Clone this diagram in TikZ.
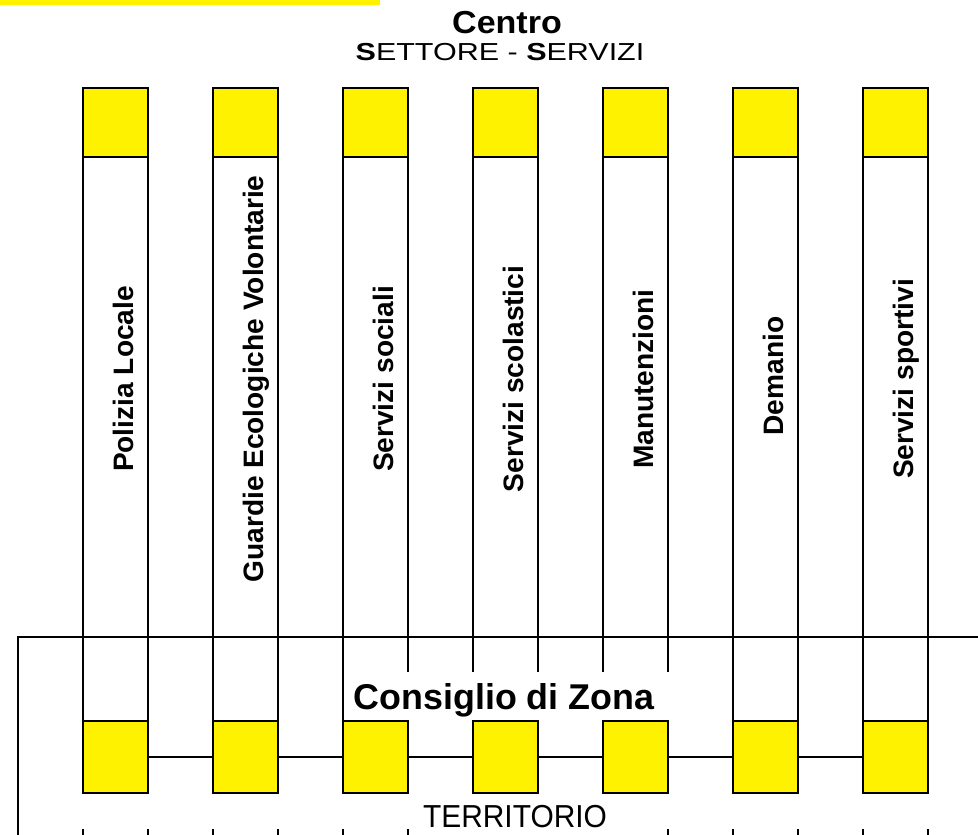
\documentclass[tikz,border=0pt]{standalone}
\usepackage{fontspec}
\setmainfont{Liberation Sans}
\usepackage{graphicx}
\begin{document}
\begin{tikzpicture}[x=0.02cm, y=-0.02cm, line width=1pt,
  box/.style={draw, fill=yellow, inner sep=0pt, outer sep=0pt, minimum width=1.3cm},
  topbox/.style={box, minimum height=1.38cm},
  botbox/.style={box, minimum height=1.44cm},
  lbl/.style={rotate=90, anchor=base, inner sep=0pt, font=\bfseries\fontsize{16}{19}\selectfont}]
\useasboundingbox (0,0) rectangle (978,835);
\fill[yellow] (0,0) rectangle (380,5);
% titles
\node[anchor=base, inner sep=0pt] (centro) at (507,33) {\scalebox{1.07}[1]{\bfseries\fontsize{18.1}{21}\selectfont Centro}};
\node[anchor=base, inner sep=0pt] (settore) at (500,60) {\scalebox{1.24}[1]{\fontsize{14}{17}\selectfont \textbf{S}ETTORE - \textbf{S}ERVIZI}};
\node[anchor=base, inner sep=0pt] (consiglio) at (504,709) {\bfseries\fontsize{20.4}{24}\selectfont Consiglio di Zona};
\node[anchor=base, inner sep=0pt] (territorio) at (515,827) {\scalebox{0.94}[1]{\fontsize{18.1}{21}\selectfont TERRITORIO}};
% top boxes
\node[topbox] (T_1) at (115.5,122.5) {};
\node[topbox] (T_2) at (245.5,122.5) {};
\node[topbox] (T_3) at (375.5,122.5) {};
\node[topbox] (T_4) at (505.5,122.5) {};
\node[topbox] (T_5) at (635.5,122.5) {};
\node[topbox] (T_6) at (765.5,122.5) {};
\node[topbox] (T_7) at (895.5,122.5) {};
% bottom boxes
\node[botbox] (B_1) at (115.5,757) {};
\node[botbox] (B_2) at (245.5,757) {};
\node[botbox] (B_3) at (375.5,757) {};
\node[botbox] (B_4) at (505.5,757) {};
\node[botbox] (B_5) at (635.5,757) {};
\node[botbox] (B_6) at (765.5,757) {};
\node[botbox] (B_7) at (895.5,757) {};
\draw (B_1) -- (B_2) -- (B_3) -- (B_4) -- (B_5) -- (B_6) -- (B_7);
% columns
\coordinate (cut) at (0,672);
\draw (T_1.south west) -- (B_1.north west);
\draw (T_1.south east) -- (B_1.north east);
\draw (T_2.south west) -- (B_2.north west);
\draw (T_2.south east) -- (B_2.north east);
\draw (T_3.south west) -- (B_3.north west);
\draw (T_3.south east) -- (T_3.south east |- cut);
\draw (T_4.south west) -- (T_4.south west |- cut);
\draw (T_4.south east) -- (T_4.south east |- cut);
\draw (T_5.south west) -- (T_5.south west |- cut);
\draw (T_5.south east) -- (T_5.south east |- cut);
\draw (T_6.south west) -- (B_6.north west);
\draw (T_6.south east) -- (B_6.north east);
\draw (T_7.south west) -- (B_7.north west);
\draw (T_7.south east) -- (B_7.north east);
% labels
\node[lbl] (L_1) at (133,379) {Polizia Locale};
\node[lbl] (L_2) at (263,379) {Guardie Ecologiche Volontarie};
\node[lbl] (L_3) at (393,379) {Servizi sociali};
\node[lbl] (L_4) at (523,379) {Servizi scolastici};
\node[lbl] (L_5) at (653,379) {Manutenzioni};
\node[lbl] (L_6) at (783,376) {Demanio};
\node[lbl] (L_7) at (913,379) {Servizi sportivi};
% zona line
\coordinate (hl) at (18,637);
\coordinate (hr) at (978,637);
\coordinate (hb) at (18,835);
\draw (hr) -- (hl) -- (hb);
% stubs below
\coordinate (stub) at (0,829);
\draw (B_1.south west |- stub) -- ++(0,6) (B_1.south east |- stub) -- ++(0,6)
      (B_2.south west |- stub) -- ++(0,6) (B_2.south east |- stub) -- ++(0,6)
      (B_3.south west |- stub) -- ++(0,6) (B_3.south east |- stub) -- ++(0,6)
      (B_5.south east |- stub) -- ++(0,6)
      (B_6.south west |- stub) -- ++(0,6) (B_6.south east |- stub) -- ++(0,6)
      (B_7.south west |- stub) -- ++(0,6) (B_7.south east |- stub) -- ++(0,6);
\end{tikzpicture}
\end{document}
